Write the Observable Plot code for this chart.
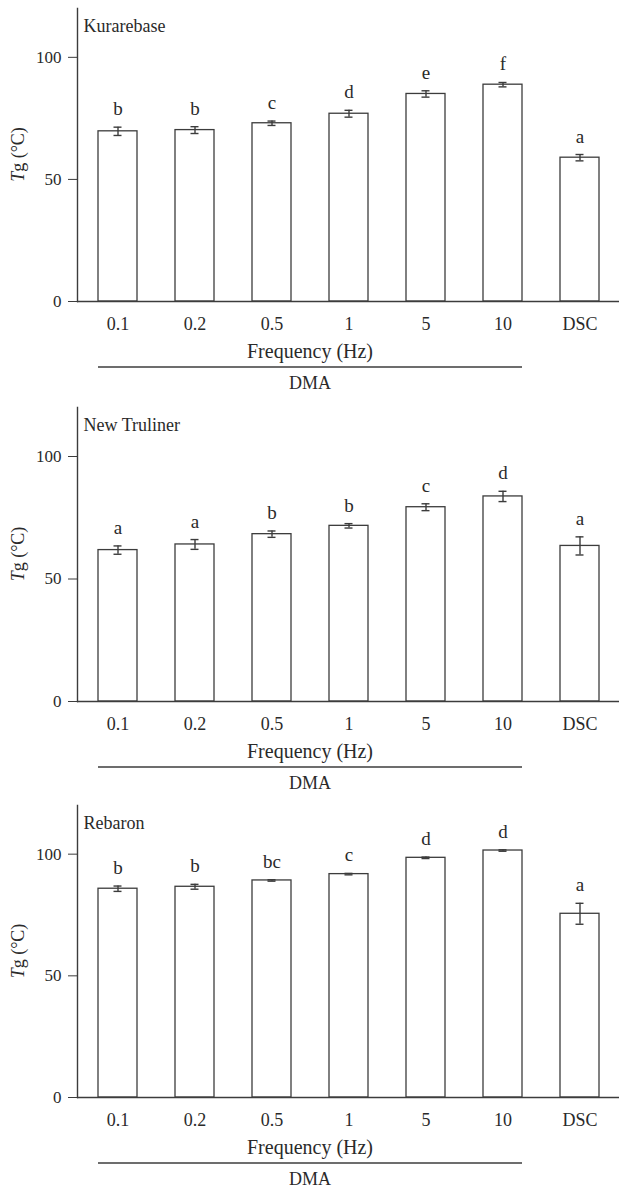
<!DOCTYPE html>
<html><head><meta charset="utf-8">
<script src="https://cdn.jsdelivr.net/npm/d3@7"></script>
<script src="https://cdn.jsdelivr.net/npm/@observablehq/plot@0.6"></script>
<style>
body{margin:0;background:#fff;font-family:"Liberation Serif",serif;}
#chart svg{display:block;}
#chart svg text{font-family:"Liberation Serif","DejaVu Serif",serif;}
</style></head><body><div id="chart"></div>
<script>
// ---- data ----
const categories = ["0.1", "0.2", "0.5", "1", "5", "10", "DSC"];
const dmaGroup = ["0.1", "10"]; // first and last DMA frequencies
const yTicks = [0, 50, 100];

const kurarebaseMean = [69.7, 70.2, 73.0, 76.9, 85.0, 88.8, 58.9];
const kurarebaseSD   = [1.7, 1.4, 0.9, 1.4, 1.3, 0.9, 1.3];
const kurarebaseLetters = ["b", "b", "c", "d", "e", "f", "a"];

const trulinerMean = [61.8, 64.1, 68.3, 71.7, 79.3, 83.7, 63.5];
const trulinerSD   = [1.7, 2.0, 1.3, 0.9, 1.4, 2.1, 3.7];
const trulinerLetters = ["a", "a", "b", "b", "c", "d", "a"];

const rebaronMean = [85.8, 86.6, 89.2, 91.8, 98.5, 101.5, 75.5];
const rebaronSD   = [1.1, 1.0, 0.3, 0.3, 0.3, 0.3, 4.3];
const rebaronLetters = ["b", "b", "bc", "c", "d", "d", "a"];

const panelNames = ["Kurarebase", "New Truliner", "Rebaron"];

// ---- layout ----
const layouts = [
  {height: 399, top: 8, bottom: 98},
  {height: 399, top: 8, bottom: 97},
  {height: 390, top: 7, bottom: 91}
];
const ink = "#3c3c3c";
const textInk = "#2a2a2a";
const font = "Liberation Serif";

function panel(name, means, sds, letters, L) {
  const data = categories.map((c, i) => ({cat: c, mean: means[i], sd: sds[i], letter: letters[i]}));
  const chart = Plot.plot({
    width: 619, height: L.height,
    marginLeft: 77, marginRight: 0, marginTop: L.top, marginBottom: L.bottom,
    style: {fontFamily: font, fontSize: "18px", color: textInk, background: "#fff", overflow: "visible"},
    x: {domain: categories, paddingInner: 0.5, paddingOuter: 0.25, label: null},
    y: {domain: [0, 120], label: null},
    marks: [
      Plot.axisX({tickSize: 0, tickPadding: 16, fontSize: 18, label: null}),
      Plot.axisY({ticks: yTicks, tickSize: 9, tickPadding: 7, fontSize: 17, label: null, stroke: ink}),
      Plot.barY(data, {x: "cat", y: "mean", fill: "white", stroke: ink, strokeWidth: 1.3}),
      Plot.ruleX(data, {x: "cat", y1: d => d.mean - d.sd, y2: d => d.mean + d.sd, stroke: ink, strokeWidth: 1.4}),
      Plot.tickY(data, {x: "cat", y: d => d.mean - d.sd, stroke: ink, strokeWidth: 1.4, insetLeft: 15.5, insetRight: 15.5}),
      Plot.tickY(data, {x: "cat", y: d => d.mean + d.sd, stroke: ink, strokeWidth: 1.4, insetLeft: 15.5, insetRight: 15.5}),
      Plot.text(data, {x: "cat", y: d => d.mean + d.sd, text: "letter", lineAnchor: "bottom", dy: -12, fontSize: 19, fill: textInk}),
      Plot.text([name], {frameAnchor: "top-left", text: d => d, textAnchor: "start", lineAnchor: "top", dx: 6, dy: 11, fontSize: 18, fill: textInk}),
      Plot.frame({anchor: "left", stroke: ink, strokeWidth: 1.4}),
      Plot.ruleY([0], {stroke: ink, strokeWidth: 1.5})
    ]
  });
  // annotations positioned from the library's own scales
  const sx = chart.scale("x");
  const sy = chart.scale("y");
  const x0 = sx.apply(dmaGroup[0]);
  const x1 = sx.apply(dmaGroup[1]) + sx.bandwidth;
  const xc = (x0 + x1) / 2;
  const zero = sy.apply(0);
  const yMid = (sy.apply(120) + zero) / 2;
  const svg = d3.select(chart);
  const g = svg.append("g").attr("font-family", font).attr("fill", textInk);
  g.append("text").attr("x", xc).attr("y", zero + 57).attr("text-anchor", "middle")
    .attr("font-size", 20).text("Frequency (Hz)");
  g.append("line").attr("x1", x0).attr("x2", x1).attr("y1", zero + 66).attr("y2", zero + 66)
    .attr("stroke", ink).attr("stroke-width", 1.3);
  g.append("text").attr("x", xc).attr("y", zero + 88).attr("text-anchor", "middle")
    .attr("font-size", 18).text("DMA");
  const yl = g.append("text").attr("transform", `translate(24,${yMid}) rotate(-90)`)
    .attr("text-anchor", "middle").attr("font-size", 18);
  yl.append("tspan").attr("font-style", "italic").text("T");
  yl.append("tspan").text("g (°C)");
  return chart;
}

const container = document.getElementById("chart");
container.appendChild(panel(panelNames[0], kurarebaseMean, kurarebaseSD, kurarebaseLetters, layouts[0]));
container.appendChild(panel(panelNames[1], trulinerMean, trulinerSD, trulinerLetters, layouts[1]));
container.appendChild(panel(panelNames[2], rebaronMean, rebaronSD, rebaronLetters, layouts[2]));
</script></body></html>
